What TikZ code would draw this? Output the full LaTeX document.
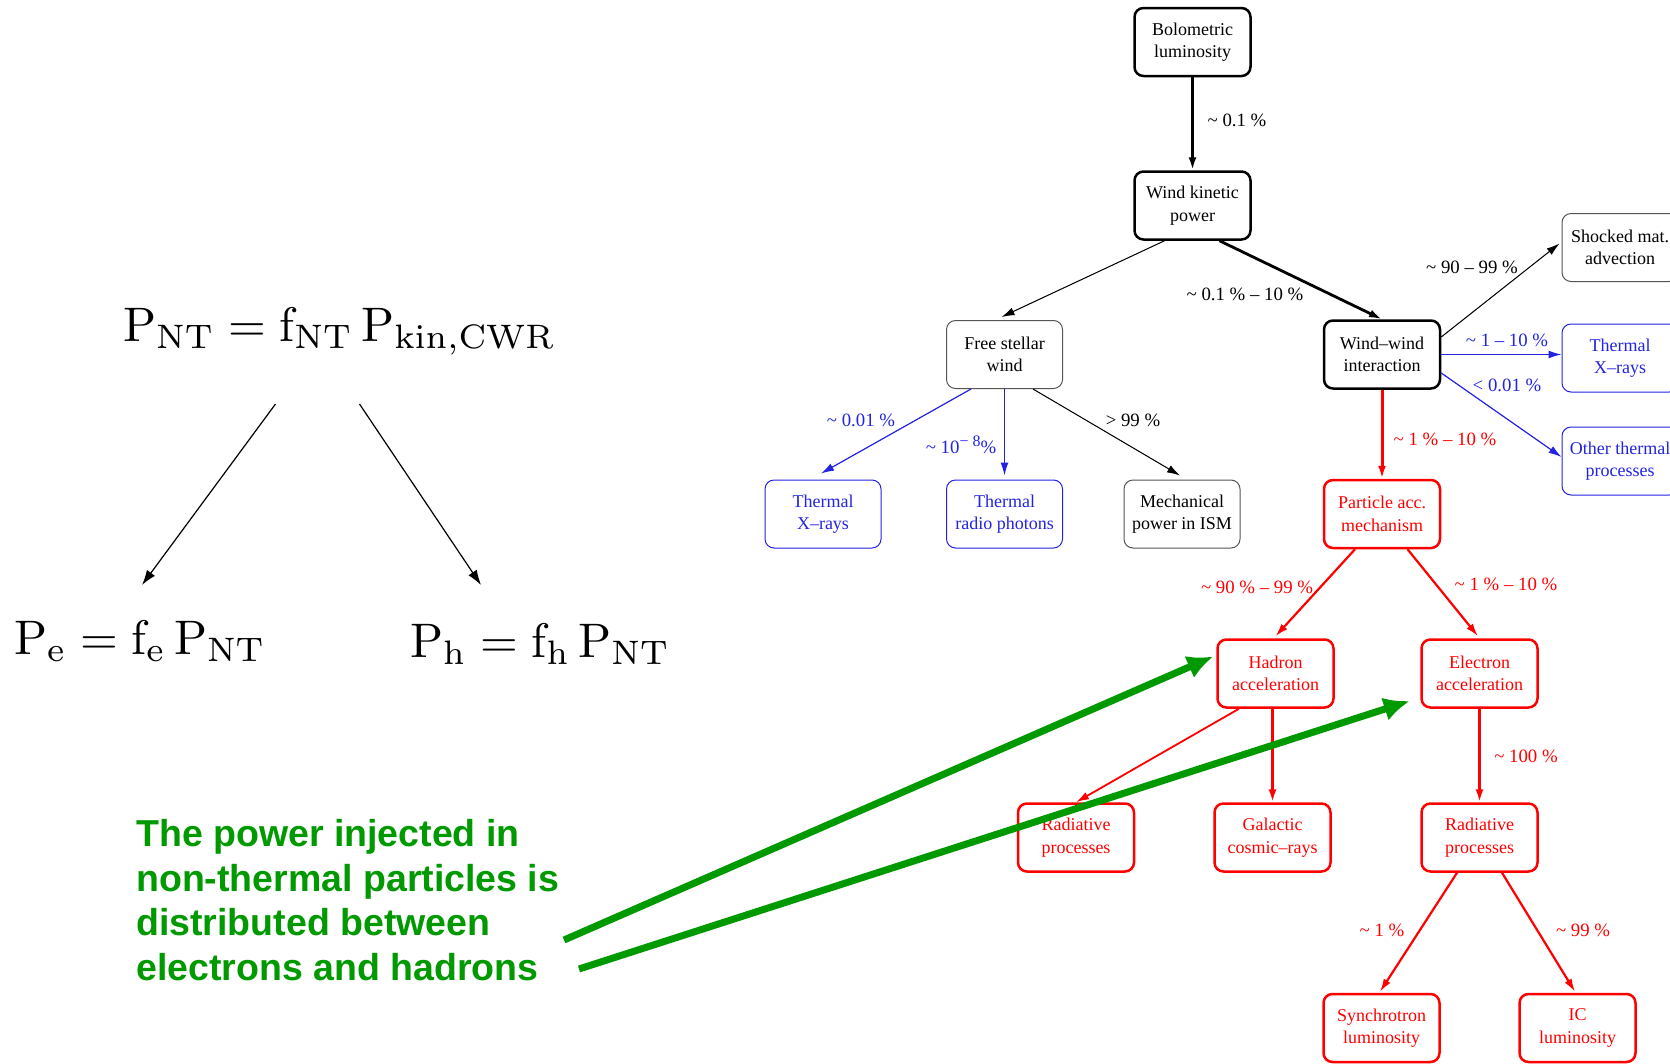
\documentclass[tikz,border=0pt]{standalone}
\usepackage[no-math]{fontspec}
\newfontfamily\boxfont[Ligatures=TeX]{Liberation Serif}
\newfontfamily\notefont[Ligatures=TeX]{Liberation Sans}
\usetikzlibrary{arrows.meta,calc}

\definecolor{flowblue}{RGB}{35,35,225}
\definecolor{flowred}{RGB}{255,0,0}
\definecolor{framegray}{RGB}{85,85,85}
\definecolor{notegreen}{RGB}{0,153,0}

\begin{document}
\begin{tikzpicture}[x=1pt,y=-1pt,
  box/.style={rectangle, rounded corners=9pt, minimum width=116pt, minimum height=68pt,
    inner sep=2pt, align=center, font=\boxfont\fontsize{18}{22.5}\selectfont},
  strongbox/.style={box, draw=black, line width=2.5pt},
  plainbox/.style={box, draw=framegray, line width=1pt},
  bluebox/.style={box, draw=flowblue, line width=1pt, text=flowblue},
  redbox/.style={box, draw=flowred, line width=2.5pt, text=flowred},
  lbl/.style={font=\boxfont\fontsize{18.8}{21}\selectfont, inner sep=0pt},
  blacklbl/.style={lbl, text=black},
  bluelbl/.style={lbl, text=flowblue},
  redlbl/.style={lbl, text=flowred},
  flow/.style={-{Latex[length=13pt,width=8pt]}},
  blackflow/.style={flow, draw=black, fill=black, line width=1pt},
  blueflow/.style={flow, draw=flowblue, fill=flowblue, line width=1.2pt},
  redflow/.style={flow, draw=flowred, fill=flowred, line width=2.2pt},
  splitarrow/.style={-{Latex[length=15pt,width=10pt]}, line width=1.2pt},
  greenarrow/.style={-{Latex[length=26pt,width=24pt]}, draw=notegreen, fill=notegreen, line width=7pt},
  note/.style={font=\notefont\bfseries\fontsize{37.5}{44.5}\selectfont, text=notegreen,
    align=left, inner sep=0pt},
  formula/.style={inner sep=0pt, anchor=base west}
]
\fill[white] (0,0) rectangle (1670,1063);
\useasboundingbox (0,0) rectangle (1670,1063);

% ---------- energy flow tree ----------
\node[strongbox] (bol) at (1192.5,42)   {Bolometric\\luminosity};
\node[strongbox] (wkp) at (1192.5,205.5){Wind kinetic\\power};
\node[plainbox]  (fsw) at (1004.5,354.5){Free stellar\\wind};
\node[strongbox] (wwi) at (1382,354.5)  {Wind--wind\\interaction};
\node[plainbox]  (sma) at (1620,247.5)  {Shocked mat.\\advection};
\node[bluebox]   (txr) at (1620,358)    {Thermal\\X--rays};
\node[bluebox]   (oth) at (1620,461)    {Other thermal\\processes};
\node[bluebox]   (txl) at (823,514)     {Thermal\\X--rays};
\node[bluebox]   (trp) at (1004.5,514)  {Thermal\\radio photons};
\node[plainbox]  (mpi) at (1182,514)    {Mechanical\\power in ISM};
\node[redbox]    (pam) at (1382,514)    {Particle acc.\\mechanism};
\node[redbox]    (had) at (1275.5,673.5){Hadron\\acceleration};
\node[redbox]    (ele) at (1479.5,673.5){Electron\\acceleration};
\node[redbox]    (rpl) at (1076,837.5)  {Radiative\\processes};
\node[redbox]    (gcr) at (1272.5,837.5){Galactic\\cosmic--rays};
\node[redbox]    (rpr) at (1479.5,837.5){Radiative\\processes};
\node[redbox]    (syn) at (1381.5,1028) {Synchrotron\\luminosity};
\node[redbox]    (icl) at (1577.5,1028) {IC\\luminosity};

% connectors
\draw[blackflow, line width=3pt] (bol) -- (wkp);
\draw[blackflow] ($(wkp.south)+(-28,0)$) -- ($(fsw.north)+(-3,-3)$);
\draw[blackflow, line width=2.8pt] ($(wkp.south)+(27,0)$) -- (wwi.north);
\draw[blueflow] ($(fsw.south)+(-33.5,0)$) -- ($(txl.north)+(-2,-6)$);
\draw[blueflow] (fsw.south) -- ($(trp.north)+(0,-4)$);
\draw[blackflow] ($(fsw.south)+(28.5,0)$) -- ($(mpi.north)+(-2,-4)$);
\draw[blackflow] ($(wwi.east)+(0,-17.5)$) -- ($(sma.west)+(-2,-4)$);
\draw[blueflow, line width=1.3pt] (wwi.east) -- (wwi.east -| txr.west);
\draw[blueflow] ($(wwi.east)+(0,18.5)$) -- ($(oth.west)+(0,-4)$);
\draw[redflow, line width=3pt] (wwi) -- (pam);
\draw[redflow] ($(pam.south)+(-27,0)$) -- ($(had.north)+(0,-2)$);
\draw[redflow] ($(pam.south)+(25.5,0)$) -- ($(ele.north)+(-1.5,-2)$);
\draw[redflow, line width=1.8pt] ($(had.south)+(-36.5,0)$) -- (rpl.north);
\draw[redflow, line width=2.5pt] (had.south -| gcr.north) -- (gcr.north);
\draw[redflow, line width=2.5pt] (ele) -- (rpr);
\draw[redflow] ($(rpr.south)+(-22.5,0)$) -- ($(syn.north)+(-1.5,-1)$);
\draw[redflow] ($(rpr.south)+(22.5,0)$) -- ($(icl.north)+(-2.5,-1)$);

% branch fractions
\node[blacklbl] (f1)  at (1237,120)  {\textasciitilde{} 0.1 \%};
\node[blacklbl] (f2)  at (1245,294)  {\textasciitilde{} 0.1 \% -- 10 \%};
\node[bluelbl]  (f3)  at (861,420)   {\textasciitilde{} 0.01 \%};
\node[bluelbl]  (f4)  at (961,445)   {\textasciitilde{} 10\raisebox{0.4em}{\fontsize{16}{16}\selectfont −\hspace{0.25em}8}\%};
\node[blacklbl] (f5)  at (1133,420)  {> 99 \%};
\node[blacklbl] (f6)  at (1472,267)  {\textasciitilde{} 90 -- 99 \%};
\node[bluelbl]  (f7)  at (1507,340)  {\textasciitilde{} 1 -- 10 \%};
\node[bluelbl]  (f8)  at (1507,385)  {< 0.01 \%};
\node[redlbl]   (f9)  at (1445,439)  {\textasciitilde{} 1 \% -- 10 \%};
\node[redlbl]   (f10) at (1257,587)  {\textasciitilde{} 90 \% -- 99 \%};
\node[redlbl]   (f11) at (1506,584)  {\textasciitilde{} 1 \% -- 10 \%};
\node[redlbl]   (f12) at (1526,756)  {\textasciitilde{} 100 \%};
\node[redlbl]   (f13) at (1382,930)  {\textasciitilde{} 1 \%};
\node[redlbl]   (f14) at (1583,930)  {\textasciitilde{} 99 \%};

% ---------- power split formulas ----------
\node[formula] (pnt) at (123,341) {\scalebox{4.85}{$\mathrm{P_{NT} = f_{NT}\,P_{kin,CWR}}$}};
\node[formula] (pe)  at (14,654)  {\scalebox{4.85}{$\mathrm{P_e = f_e\,P_{NT}}$}};
\node[formula] (ph)  at (410,657) {\scalebox{4.85}{$\mathrm{P_h = f_h\,P_{NT}}$}};

\coordinate (splitL) at (275.5,404);
\coordinate (splitR) at (359.5,404);
\coordinate (peTop)  at (142,585);
\coordinate (phTop)  at (481,585);
\draw[splitarrow] (splitL) -- (peTop);
\draw[splitarrow] (splitR) -- (phTop);

% ---------- note with pointers (base anchor sits on the last line) ----------
\node[note, anchor=base west] (note) at (136,980)
  {The power injected in\\non-thermal particles is\\distributed between\\electrons and hadrons};

\coordinate (noteTailA) at (564,940);
\coordinate (noteTailB) at (579,969);
\draw[greenarrow] (noteTailA) -- ($(had.west)+(-3,-17)$);
\draw[greenarrow] (noteTailB) -- ($(ele.west)+(-10.5,27.5)$);
\end{tikzpicture}
\end{document}
